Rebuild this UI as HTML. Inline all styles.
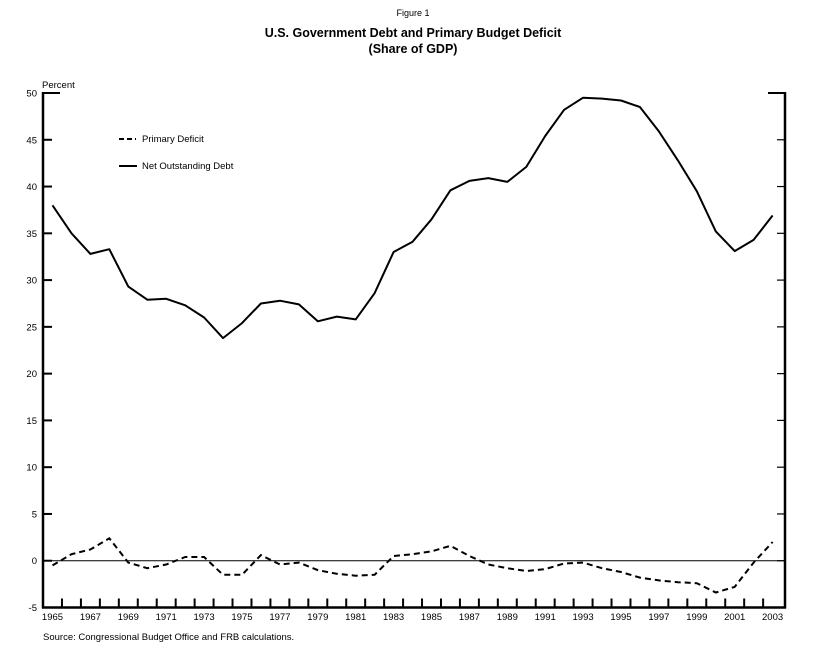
<!DOCTYPE html>
<html><head><meta charset="utf-8"><style>
html,body{margin:0;padding:0;background:#fff;}
svg{display:block;font-family:"Liberation Sans",Arial,sans-serif;}
</style></head><body>
<svg id="chart" width="818" height="650" viewBox="0 0 818 650" xmlns="http://www.w3.org/2000/svg">
<text x="413" y="16" font-size="9" text-anchor="middle">Figure 1</text>
<text x="413" y="37" font-size="12.5" font-weight="bold" text-anchor="middle">U.S. Government Debt and Primary Budget Deficit</text>
<text x="413" y="53" font-size="12.5" font-weight="bold" text-anchor="middle">(Share of GDP)</text>
<text x="42" y="88" font-size="9.5">Percent</text>
<g>
<line x1="119" y1="139" x2="136" y2="139" stroke="#000" stroke-width="2" stroke-dasharray="5,3"/>
<text x="142" y="142" font-size="9.5">Primary Deficit</text>
<line x1="119" y1="166" x2="137" y2="166" stroke="#000" stroke-width="2"/>
<text x="142" y="169" font-size="9.5">Net Outstanding Debt</text>
</g>
<g id="axes"></g>
<g id="marks"></g>
<text x="43" y="640" font-size="9.5">Source: Congressional Budget Office and FRB calculations.</text>
</svg>
<script>
const years = [];
for (let y = 1965; y <= 2003; y++) years.push(y);
const primaryDeficit = [-0.5,0.7,1.2,2.4,-0.2,-0.8,-0.4,0.4,0.4,-1.5,-1.5,0.6,-0.4,-0.2,-1.0,-1.4,-1.6,-1.5,0.5,0.7,1.0,1.6,0.5,-0.4,-0.8,-1.1,-0.9,-0.3,-0.2,-0.8,-1.2,-1.8,-2.1,-2.3,-2.4,-3.4,-2.8,-0.2,2.0];
const netDebt = [38.0,35.0,32.8,33.3,29.3,27.9,28.0,27.3,26.0,23.8,25.4,27.5,27.8,27.4,25.6,26.1,25.8,28.6,33.0,34.1,36.5,39.6,40.6,40.9,40.5,42.1,45.4,48.2,49.5,49.4,49.2,48.5,45.9,42.8,39.5,35.2,33.1,34.3,36.9];
const yTicks = [50,45,40,35,30,25,20,15,10,5,0,-5];
const xLabels = [1965,1967,1969,1971,1973,1975,1977,1979,1981,1983,1985,1987,1989,1991,1993,1995,1997,1999,2001,2003];

const NS = "http://www.w3.org/2000/svg";
const L = 43, R = 785, T = 93, B = 607.5;
const yMin = -5, yMax = 50;
const xs = yr => 52.5 + (yr - 1965) * 18.95;
const ys = v => B - (v - yMin) / (yMax - yMin) * (B - T);
function mk(tag, attrs, parent) {
  const e = document.createElementNS(NS, tag);
  for (const k in attrs) e.setAttribute(k, attrs[k]);
  parent.appendChild(e);
  return e;
}
const axes = document.getElementById('axes');
const marks = document.getElementById('marks');

let e = mk('line', {x1:L, y1:T-1, x2:L, y2:B+1, stroke:'#000','stroke-width':2.5}, axes);


e = mk('line', {x1:R, y1:T-1, x2:R, y2:B+1, stroke:'#000','stroke-width':2.5}, axes);


e = mk('line', {x1:L-1, y1:B, x2:R+1, y2:B, stroke:'#000','stroke-width':2.5}, axes);


e = mk('line', {x1:L, y1:ys(0), x2:R, y2:ys(0), stroke:'#000','stroke-width':1}, axes);



yTicks.forEach(v => {
  const y = ys(v);
  if (v !== yMin) {
    const len = v === yMax ? 17 : 9;
    let t = mk('line', {x1:L, y1:y, x2:L+len, y2:y, stroke:'#000','stroke-width':2}, axes);
    
    
    const rl = v === yMax ? 17 : 8;
    t = mk('line', {x1:R-rl, y1:y, x2:R, y2:y, stroke:'#000','stroke-width': v === yMax ? 2 : 1.2}, axes);
    
    
  }
  const lb = mk('text', {x:37, y:y+3.5, 'font-size':9.5, 'text-anchor':'end'}, axes);
  lb.textContent = v;
  
  
});

for (let yr = 1965; yr < 2003; yr++) {
  const x = xs(yr + 0.5);
  const t = mk('line', {x1:x, y1:B, x2:x, y2:B-9, stroke:'#000','stroke-width':2}, axes);
  
  
}
xLabels.forEach(yr => {
  const lb = mk('text', {x:xs(yr), y:620, 'font-size':9.5, 'text-anchor':'middle'}, axes);
  lb.textContent = yr;
  
  
});

function pts(arr) { return arr.map((v, i) => xs(years[i]).toFixed(1) + ',' + ys(v).toFixed(1)).join(' '); }
let p = mk('polyline', {points:pts(netDebt), fill:'none', stroke:'#000','stroke-width':2,'stroke-linejoin':'round'}, marks);


p = mk('polyline', {points:pts(primaryDeficit), fill:'none', stroke:'#000','stroke-width':2,'stroke-dasharray':'6,4'}, marks);


</script>
</body></html>
